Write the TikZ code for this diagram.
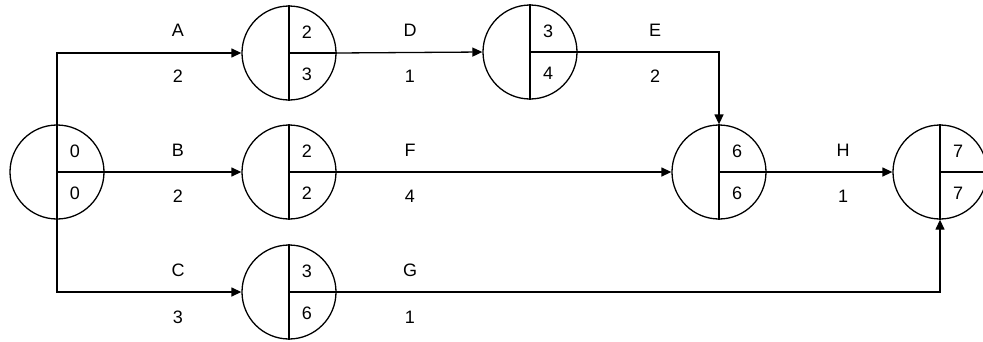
\documentclass[tikz,border=0pt]{standalone}
\usepackage{fontspec}
\setmainfont{Liberation Sans}
\usetikzlibrary{arrows.meta}
\begin{document}
\begin{tikzpicture}[x=1pt,y=-1pt,
  evt/.style={circle,draw,line width=1.3pt,minimum size=94pt,inner sep=0pt},
  num/.style={font=\fontsize{18}{21}\selectfont,inner sep=0pt},
  lbl/.style={font=\fontsize{18}{21}\selectfont,inner sep=0pt},
  arr/.style={line width=1.3pt,-{Triangle[length=10pt,width=9pt]}},
  div/.style={line width=1.3pt}]
\useasboundingbox (0,0) rectangle (983,341);
% event nodes
\node[evt] (n0) at (57,172) {};
\node[evt] (nA) at (289,53) {};
\node[evt] (nB) at (289,172) {};
\node[evt] (nC) at (289,292) {};
\node[evt] (nD) at (530,52) {};
\node[evt] (n6) at (719,172) {};
\node[evt] (n7) at (940,172) {};
% dividers and numbers
\foreach \n/\t/\b in {n0/0/0, nA/2/3, nB/2/2, nC/3/6, nD/3/4, n6/6/6, n7/7/7}{
  \draw[div] (\n.north) -- (\n.south);
  \draw[div] (\n.center) -- (\n.east);
  \node[num] (\n t) at ([xshift=18pt,yshift=21pt]\n.center) {\t};
  \node[num] (\n b) at ([xshift=18pt,yshift=-21pt]\n.center) {\b};
}
% connectors
\draw[arr] (n0.north) |- (nA.west);
\draw[arr] (n0.east) -- (nB.west);
\draw[arr] (n0.south) |- (nC.west);
\draw[arr] (nA.east) -- (nD.west);
\draw[arr] (nD.east) -| (n6.north);
\draw[arr] (nB.east) -- (n6.west);
\draw[arr] (n6.east) -- (n7.west);
\draw[arr] (nC.east) -| (n7.south);
% activity labels
\node[lbl] (lA) at (178,30) {A};
\node[lbl] (dA) at (178,76) {2};
\node[lbl] (lB) at (178,150) {B};
\node[lbl] (dB) at (178,196) {2};
\node[lbl] (lC) at (178,270) {C};
\node[lbl] (dC) at (178,317) {3};
\node[lbl] (lD) at (410,30) {D};
\node[lbl] (dD) at (410,76) {1};
\node[lbl] (lE) at (655,30) {E};
\node[lbl] (dE) at (655,76) {2};
\node[lbl] (lF) at (410,150) {F};
\node[lbl] (dF) at (410,196) {4};
\node[lbl] (lH) at (843,150) {H};
\node[lbl] (dH) at (843,196) {1};
\node[lbl] (lG) at (410,270) {G};
\node[lbl] (dG) at (410,317) {1};
\end{tikzpicture}
\end{document}
